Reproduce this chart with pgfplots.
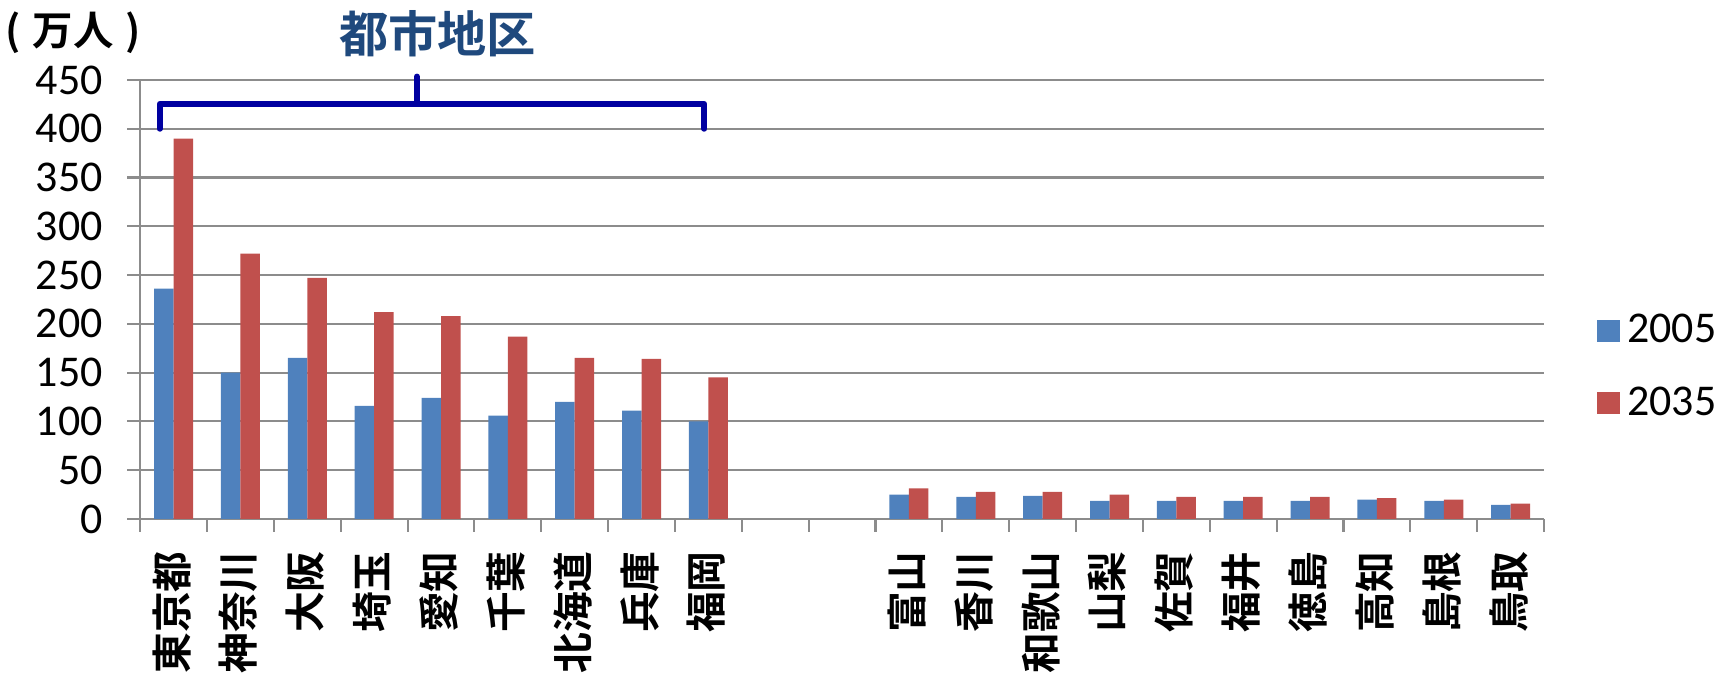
\documentclass[border=0pt]{standalone}
\usepackage{fontspec}
\setmainfont{Carlito}
\newfontfamily\cjk{Noto Sans CJK JP}[BoldFont={* Bold}]
\usepackage{pgfplots}
\usepackage{pgfplotstable}
\pgfplotsset{compat=1.18}
\definecolor{barblue}{RGB}{79,129,189}
\definecolor{barred}{RGB}{192,80,77}
\definecolor{gridgray}{RGB}{140,140,140}
\definecolor{titleblue}{RGB}{31,73,125}
\definecolor{bracketblue}{RGB}{0,0,160}

\pgfplotstableread{
x y
0 236
1 150
2 165
3 116
4 124
5 106
6 120
7 111
8 100
11 24.9
12 22.5
13 23.5
14 18.4
15 18.4
16 18.4
17 18.4
18 19.8
19 18.4
20 14.3
}\blue
\pgfplotstableread{
x y
0 390
1 272
2 247
3 212
4 208
5 187
6 165
7 164
8 145
11 31.4
12 27.6
13 27.6
14 24.9
15 22.5
16 22.5
17 22.5
18 21.2
19 19.8
20 15.7
}\red

\begin{document}
\begin{tikzpicture}
\begin{axis}[name=ax, scale only axis, width=14.04cm, height=4.39cm,
  clip=false,
  ybar=0pt, bar width=0.195cm,
  xmin=-0.5, xmax=20.5, ymin=0, ymax=450,
  ytick={0,50,...,450},
  xtick={-0.5,0.5,...,20.5},
  xticklabels={},
  extra x ticks={0,...,20},
  extra x tick labels={東京都,神奈川,大阪,埼玉,愛知,千葉,北海道,兵庫,福岡,{},{},富山,香川,和歌山,山梨,佐賀,福井,徳島,高知,島根,鳥取},
  extra x tick style={major tick length=0pt, grid=none},
  xticklabel style={yshift=-0.2cm, xshift=-0.02cm, rotate=90, anchor=east, font=\cjk\bfseries\fontsize{11.6}{14}\selectfont},
  axis x line*=bottom, axis y line*=left,
  axis line style={gridgray, line width=0.6pt},
  tick align=outside, major tick length=0.13cm,
  tick style={gridgray, line width=0.6pt},
  ymajorgrids=true,
  grid style={gridgray, line width=0.6pt},
  /pgf/number format/assume math mode=true,
  yticklabel style={font=\fontsize{12.5}{14}\selectfont, xshift=-0.12cm},
  legend style={draw=none, at={(1.03,0.346)}, anchor=west, font=\fontsize{12.5}{14}\selectfont, row sep=0.25cm, legend cell align=left},
  legend image code/.code={\fill[#1] (0cm,-0.11cm) rectangle (0.23cm,0.11cm);},
]
\addplot[fill=barblue, draw=none] table[x=x,y=y] {\blue};
\addplot[fill=barred, draw=none] table[x=x,y=y] {\red};
\legend{2005,2035}
\draw[bracketblue, line width=1.7pt, line cap=round, line join=round]
  (axis cs:-0.208,400) -- (axis cs:-0.208,425.4) -- (axis cs:7.94,425.4) -- (axis cs:7.94,400);
\draw[bracketblue, line width=1.7pt, line cap=round]
  (axis cs:3.64,425.4) -- (axis cs:3.64,453.5);
\node[font=\cjk\bfseries\fontsize{14}{16}\selectfont, text=titleblue] at ([yshift=0.46cm]axis cs:3.95,450) {都市地区};
\node[font=\cjk\bfseries\fontsize{11.5}{13}\selectfont, inner sep=0pt] at ([shift={(-0.67cm,0.47cm)}]rel axis cs:0,1) {(\hspace{0.3em}万人\hspace{0.3em})};
\end{axis}
\pgfresetboundingbox
\path ([shift={(-1.402cm,-1.59cm)}]ax.south west) rectangle ([shift={(1.73cm,0.80cm)}]ax.north east);
\end{tikzpicture}
\end{document}
